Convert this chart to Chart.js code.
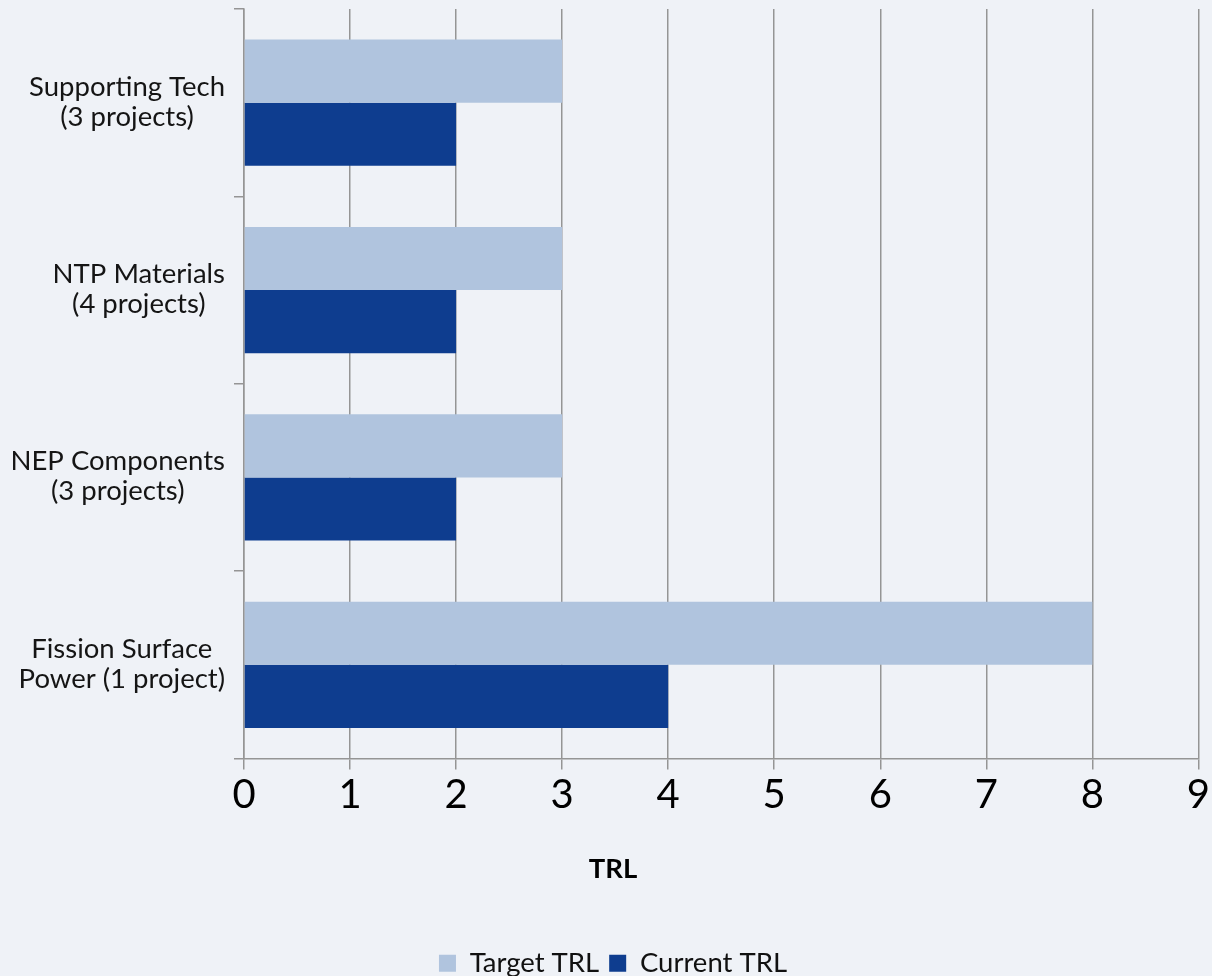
<!DOCTYPE html>
<html>
<head>
<meta charset="utf-8">
<script src="https://cdn.jsdelivr.net/npm/chart.js@4/dist/chart.umd.min.js"></script>
<style>
  html, body { margin: 0; padding: 0; background: #eff2f7; overflow: hidden; }
  #wrap { width: 1212px; height: 976px; position: relative; }
</style>
</head>
<body>
<div id="wrap"><canvas id="c"></canvas></div>
<script>
const categories = [
  ["Supporting Tech", "(3 projects)"],
  ["NTP Materials", "(4 projects)"],
  ["NEP Components", "(3 projects)"],
  ["Fission Surface", "Power (1 project)"]
];
const targetTRL = [3, 3, 3, 8];
const currentTRL = [2, 2, 2, 4];
const xTicks = [0, 1, 2, 3, 4, 5, 6, 7, 8, 9];

const GRID = '#959595';
const FONT = 'Lato, "Noto Sans", sans-serif';

// Draw y labels: block right-aligned, lines centered within block
const yLabelPlugin = {
  id: 'yLabelPlugin',
  afterDraw(chart) {
    const s = chart.scales.y;
    const ctx = chart.ctx;
    ctx.save();
    ctx.font = '27.5px ' + FONT;
    ctx.fillStyle = '#151515';
    ctx.textBaseline = 'middle';
    ctx.textAlign = 'center';
    const lh = 30;
    const right = s.right - 10 - 9;
    categories.forEach((lines, i) => {
      const y = s.getPixelForTick(i) - 1;
      const w = Math.max(...lines.map(l => ctx.measureText(l).width));
      const cx = right - w / 2;
      const y0 = y - (lines.length - 1) * lh / 2;
      lines.forEach((l, j) => ctx.fillText(l, cx, y0 + j * lh));
    });
    ctx.restore();
  }
};

new Chart(document.getElementById('c'), {
  type: 'bar',
  data: {
    labels: categories,
    datasets: [
      { label: 'Target TRL', data: targetTRL, backgroundColor: '#b0c4de', categoryPercentage: 0.674, barPercentage: 1.0 },
      { label: 'Current TRL', data: currentTRL, backgroundColor: '#0e3d8f', categoryPercentage: 0.674, barPercentage: 1.0 }
    ]
  },
  options: {
    indexAxis: 'y',
    responsive: true,
    maintainAspectRatio: false,
    animation: false,
    layout: { padding: { top: 9, right: 0, left: 14, bottom: -11 } },
    scales: {
      x: {
        min: xTicks[0], max: xTicks[xTicks.length - 1],
        ticks: { stepSize: 1, color: '#000', font: { family: FONT, size: 40 }, padding: 2 },
        grid: { color: GRID, lineWidth: 1.5, tickLength: 11, drawOnChartArea: true },
        border: { color: GRID, width: 1.5 }
      },
      y: {
        afterFit(scale) { scale.width = 230; },
        ticks: { display: false },
        grid: { offset: true, drawOnChartArea: false, color: GRID, lineWidth: 1.5, tickLength: 10 },
        border: { color: GRID, width: 1.5 }
      }
    },
    plugins: {
      title: {
        display: true, text: 'TRL', position: 'bottom', weight: 500, color: '#000',
        font: { family: FONT, size: 27.5, weight: 'bold' }, padding: { top: 31, bottom: 54 }
      },
      legend: {
        position: 'bottom',
        labels: { color: '#111', font: { family: FONT, size: 27.5 }, boxWidth: 17, boxHeight: 17, padding: 10 }
      },
      tooltip: { enabled: false }
    }
  },
  plugins: [yLabelPlugin]
});
</script>
</body>
</html>
